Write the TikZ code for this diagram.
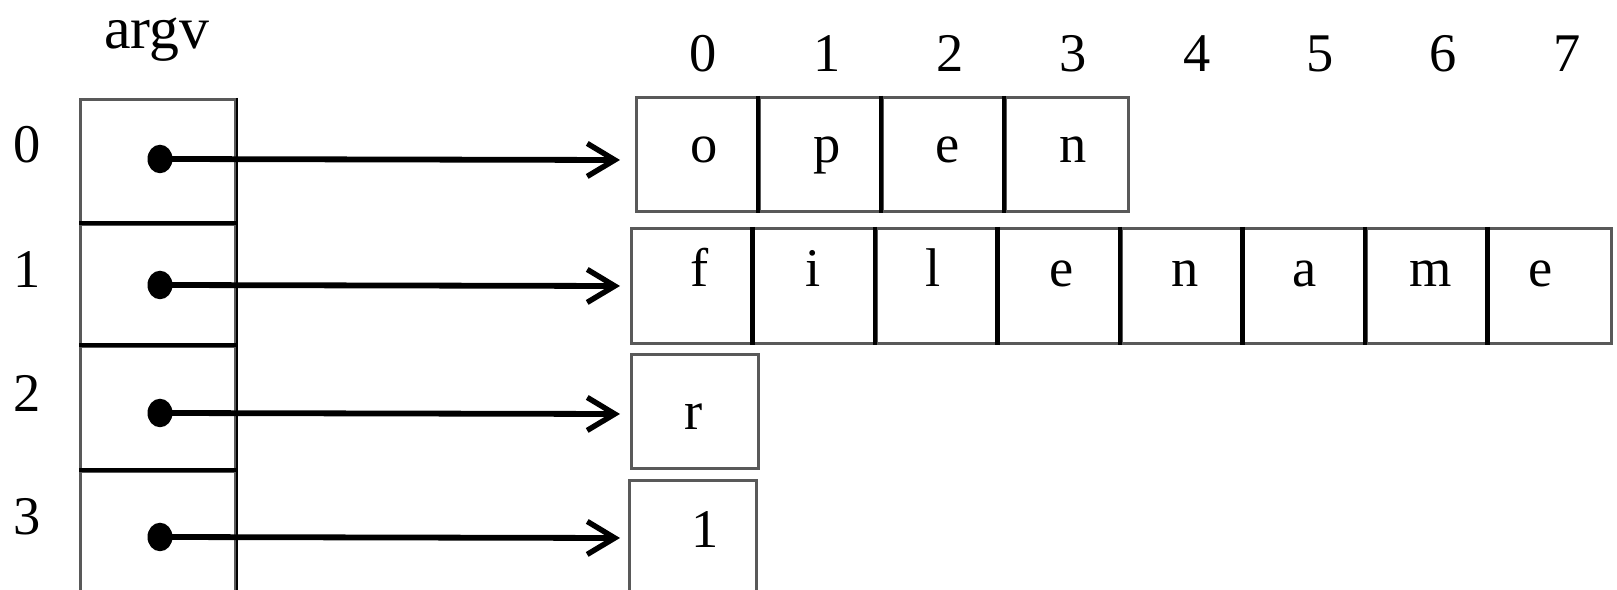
\documentclass[tikz,border=0pt]{standalone}
\usepackage{fontspec}
\setmainfont{Liberation Serif}
\usetikzlibrary{arrows.meta,shapes.geometric}
\begin{document}
\begin{tikzpicture}[x=0.02cm,y=-0.02cm,
  every node/.style={font=\fontsize{31}{36}\selectfont},
  txt/.style={anchor=base,inner sep=0pt},
  cellbox/.style={draw=black!65,line width=1.5pt,anchor=north west,inner sep=0pt,minimum height=2.28cm},
  wcell/.style={cellbox,minimum width=2.46cm},
  fcell/.style={cellbox,minimum width=2.45cm,minimum height=2.3cm},
  acell/.style={draw=black!65,line width=1.5pt,anchor=north west,inner sep=0pt,minimum width=3.1cm},
  divider/.style={draw=black,line width=2.6pt},
  dotmark/.style={ellipse,fill=black,inner sep=0pt,minimum width=0.5cm,minimum height=0.57cm},
  ptr/.style={draw=black,line width=3.3pt,-{Straight Barb[length=5.5mm,width=6.6mm,line width=3.1pt]}}]
\useasboundingbox (0,0) rectangle (1617,590);

% argv array
\node[txt,font=\fontsize{34}{38}\selectfont] (argv) at (157,49) {argv};
\node[acell,minimum height=2.5cm] (a0) at (79,98) {};
\node[acell,minimum height=2.44cm] (a1) at (79,223) {};
\node[acell,minimum height=2.5cm] (a2) at (79,345) {};
\node[acell,minimum height=2.8cm] (a3) at (79,470) {};
\draw[black,line width=1.2pt] (a0.north east) -- (a3.south east);
\draw[divider] (a1.north west) -- (a1.north east);
\draw[divider] (a2.north west) -- (a2.north east);
\draw[divider] (a3.north west) -- (a3.north east);

% row labels
\node[txt] (r0) at (27,163) {0};
\node[txt] (r1) at (27,288) {1};
\node[txt] (r2) at (27,412) {2};
\node[txt] (r3) at (27,535) {3};

% index labels
\foreach \i/\x in {0/703,1/827,2/950,3/1073,4/1197,5/1320,6/1443,7/1567}
  \node[txt] (idx\i) at (\x,72) {\i};

% "open"
\foreach \i/\x in {0/635,1/758,2/881,3/1004}
  \node[wcell] (o\i) at (\x,96) {};
\foreach \i in {1,2,3}
  \draw[divider] (o\i.north west) -- (o\i.south west);
\foreach \i/\x/\c in {0/704/o,1/827/p,2/948/e,3/1073/n}
  \node[txt] (ol\i) at (\x,163) {\c};

% "filename"
\foreach \i in {0,...,7}
  \node[fcell] (f\i) at ({630+122.5*\i},227) {};
\foreach \i in {1,...,7}
  \draw[divider] (f\i.north west) -- (f\i.south west);
\foreach \i/\x/\c in {0/700/f,1/813/i,2/933/l,3/1062/e,4/1185/n,5/1305/a,6/1431/m,7/1541/e}
  \node[txt] (fl\i) at (\x,287) {\c};

% "r"
\node[cellbox,minimum width=2.54cm] (rc) at (630,353) {};
\node[txt] (rl) at (694,430) {r};

% "1"
\node[cellbox,minimum width=2.54cm,minimum height=2.8cm] (oc) at (628,479) {};
\node[txt] (ocl) at (705,548) {1};

% pointers
\node[dotmark] (d0) at (160,159) {};
\node[dotmark] (d1) at (160,285) {};
\node[dotmark] (d2) at (160,413) {};
\node[dotmark] (d3) at (160,537) {};
\coordinate (e0) at (620,160);
\coordinate (e1) at (620,286);
\coordinate (e2) at (620,414);
\coordinate (e3) at (620,538);
\draw[ptr] (d0.center) -- (e0);
\draw[ptr] (d1.center) -- (e1);
\draw[ptr] (d2.center) -- (e2);
\draw[ptr] (d3.center) -- (e3);
\end{tikzpicture}
\end{document}
